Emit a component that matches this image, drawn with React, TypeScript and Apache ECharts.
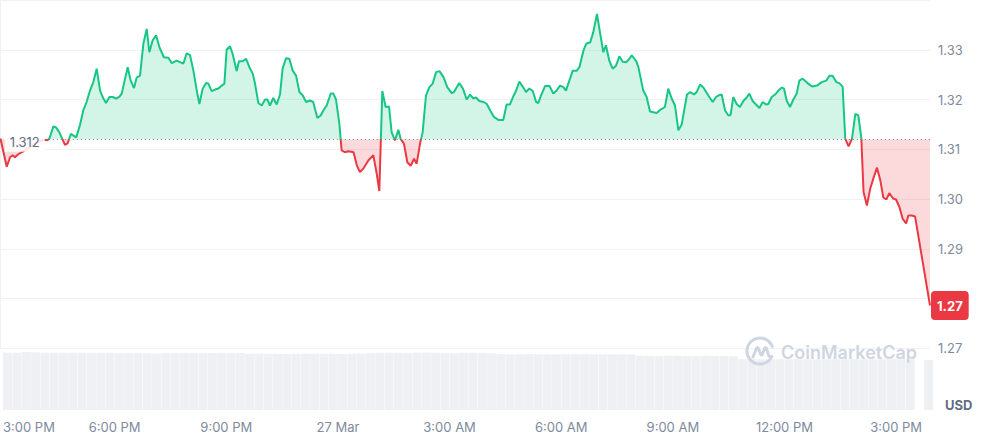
import React, { useEffect, useRef } from "react";
import * as echarts from "echarts";

// hours elapsed since 26 Mar, 3:00 PM
const times = [
  0.01, 0.18, 0.27, 0.34, 0.4, 0.49, 0.67, 0.8, 0.94, 1.12, 1.21, 1.25, 1.32, 1.43, 1.5, 1.59, 1.65, 1.74, 1.81, 1.9,
  1.96, 2.04, 2.14, 2.23, 2.32, 2.41, 2.5, 2.59, 2.68, 2.77, 2.84, 2.93, 3.02, 3.11, 3.2, 3.26, 3.35, 3.42, 3.5, 3.59,
  3.66, 3.75, 3.84, 3.93, 4.0, 4.09, 4.18, 4.27, 4.39, 4.51, 4.6, 4.73, 4.82, 4.91, 5.0, 5.09, 5.18, 5.27, 5.34, 5.43,
  5.52, 5.58, 5.67, 5.76, 5.85, 5.94, 6.01, 6.07, 6.16, 6.23, 6.34, 6.4, 6.5, 6.59, 6.68, 6.77, 6.83, 6.92, 7.01, 7.1,
  7.16, 7.23, 7.32, 7.41, 7.5, 7.57, 7.66, 7.75, 7.84, 7.93, 8.02, 8.11, 8.2, 8.3, 8.39, 8.5, 8.59, 8.66, 8.75, 8.86,
  8.93, 9.0, 9.09, 9.15, 9.24, 9.33, 9.47, 9.56, 9.64, 9.73, 9.87, 10.0, 10.09, 10.16, 10.24, 10.33, 10.42, 10.49, 10.58, 10.67,
  10.73, 10.82, 10.91, 11.0, 11.09, 11.16, 11.25, 11.32, 11.41, 11.5, 11.59, 11.68, 11.77, 11.88, 11.98, 12.1, 12.16, 12.3, 12.4, 12.5,
  12.59, 12.68, 12.75, 12.84, 12.95, 13.04, 13.13, 13.23, 13.35, 13.48, 13.57, 13.66, 13.74, 13.82, 13.91, 14.0, 14.09, 14.18, 14.27, 14.36,
  14.42, 14.49, 14.6, 14.72, 14.82, 14.91, 15.0, 15.09, 15.16, 15.25, 15.34, 15.45, 15.52, 15.63, 15.7, 15.81, 15.89, 15.99, 16.07, 16.16,
  16.23, 16.32, 16.41, 16.5, 16.59, 16.68, 16.77, 16.86, 16.92, 17.04, 17.1, 17.19, 17.23, 17.32, 17.41, 17.59, 17.68, 17.81, 17.9, 17.99,
  18.08, 18.17, 18.26, 18.4, 18.49, 18.59, 18.66, 18.75, 18.84, 18.93, 19.0, 19.09, 19.18, 19.24, 19.33, 19.42, 19.51, 19.57, 19.64, 19.73,
  19.82, 19.91, 20.0, 20.07, 20.16, 20.25, 20.34, 20.43, 20.52, 20.58, 20.67, 20.76, 20.85, 20.94, 21.0, 21.07, 21.16, 21.25, 21.34, 21.41,
  21.5, 21.57, 21.63, 21.75, 21.88, 22.01, 22.13, 22.22, 22.3, 22.4, 22.48, 22.57, 22.64, 22.73, 22.82, 22.91, 22.99, 23.07, 23.13, 23.22,
  23.31, 23.4, 23.49, 23.58, 23.66, 23.74, 23.82, 23.92, 24.0, 24.09, 24.18, 24.27, 24.33, 24.42, 24.51, 24.91,
];

const prices = [
  1.3122, 1.3065, 1.3084, 1.3088, 1.3084, 1.309, 1.3098, 1.3104, 1.3111, 1.3118, 1.3119, 1.3118, 1.3121, 1.3146, 1.3144, 1.3134, 1.3124, 1.3109, 1.3112, 1.3131,
  1.3128, 1.3124, 1.3148, 1.3178, 1.3195, 1.3218, 1.3235, 1.3262, 1.3218, 1.3202, 1.3193, 1.3205, 1.3205, 1.3202, 1.3206, 1.3212, 1.3242, 1.3265, 1.3238, 1.3223,
  1.3244, 1.3248, 1.3312, 1.3342, 1.3295, 1.3319, 1.3329, 1.3305, 1.3285, 1.3284, 1.3273, 1.3278, 1.3275, 1.3272, 1.3293, 1.3289, 1.3258, 1.3218, 1.3191, 1.3222,
  1.3233, 1.3232, 1.3217, 1.322, 1.3222, 1.3228, 1.3232, 1.33, 1.3307, 1.3292, 1.3257, 1.3277, 1.3277, 1.3282, 1.3265, 1.3252, 1.3232, 1.3193, 1.3188, 1.32,
  1.32, 1.3188, 1.3203, 1.319, 1.321, 1.3262, 1.3283, 1.3282, 1.3258, 1.3248, 1.3215, 1.3208, 1.3195, 1.3198, 1.3195, 1.3163, 1.3168, 1.3178, 1.3188, 1.3212,
  1.3212, 1.32, 1.3151, 1.3098, 1.3094, 1.3096, 1.3094, 1.3067, 1.3054, 1.3061, 1.3078, 1.3088, 1.3051, 1.3016, 1.3217, 1.3185, 1.3186, 1.3134, 1.3118, 1.3139,
  1.3121, 1.3111, 1.3074, 1.3067, 1.3081, 1.3071, 1.3111, 1.3134, 1.3208, 1.3225, 1.3232, 1.3255, 1.3257, 1.3245, 1.3225, 1.3213, 1.3215, 1.3233, 1.3222, 1.32,
  1.321, 1.3202, 1.3204, 1.3197, 1.3195, 1.3191, 1.3178, 1.3165, 1.3159, 1.3159, 1.319, 1.319, 1.3205, 1.3217, 1.3236, 1.3226, 1.3215, 1.3222, 1.3217, 1.3195,
  1.3193, 1.3208, 1.3227, 1.3227, 1.3212, 1.3218, 1.3228, 1.3225, 1.3218, 1.3238, 1.3258, 1.3258, 1.3265, 1.3299, 1.3312, 1.3315, 1.3335, 1.3372, 1.3335, 1.3295,
  1.3309, 1.3278, 1.3262, 1.3268, 1.3287, 1.3276, 1.3275, 1.3282, 1.3289, 1.3277, 1.3265, 1.3232, 1.3218, 1.3205, 1.3176, 1.3173, 1.3179, 1.3185, 1.3222, 1.3202,
  1.3188, 1.3138, 1.315, 1.321, 1.3215, 1.321, 1.3215, 1.323, 1.3224, 1.3213, 1.3205, 1.3195, 1.3205, 1.3208, 1.321, 1.3178, 1.3168, 1.3169, 1.3205, 1.3191,
  1.3185, 1.3197, 1.3204, 1.3212, 1.3197, 1.319, 1.3183, 1.3195, 1.319, 1.3191, 1.3205, 1.321, 1.3218, 1.3224, 1.3222, 1.3198, 1.3185, 1.32, 1.3212, 1.3238,
  1.3242, 1.3237, 1.3233, 1.3226, 1.3228, 1.3235, 1.3238, 1.3248, 1.3248, 1.3235, 1.3233, 1.3226, 1.3121, 1.3106, 1.3121, 1.3171, 1.3168, 1.3123, 1.3014, 1.2987,
  1.3021, 1.3043, 1.3063, 1.3037, 1.3003, 1.2999, 1.3012, 1.3001, 1.2999, 1.2984, 1.296, 1.2951, 1.2967, 1.2967, 1.2965, 1.2786,
];

// 15-minute volume buckets (relative units)
const volumes = [
  57.3, 57.3, 58.0, 57.8, 57.3, 57.3, 57.2, 57.3, 57.3, 57.2, 57.3, 57.2, 56.9, 56.9, 56.9, 56.8, 56.3, 57.0, 57.0, 57.0,
  57.1, 57.0, 57.0, 57.0, 57.0, 57.0, 56.2, 56.3, 56.2, 56.2, 56.1, 56.2, 56.2, 56.3, 56.2, 56.2, 56.1, 56.2, 56.4, 56.9,
  57.2, 57.3, 57.2, 57.0, 57.3, 57.4, 57.3, 57.0, 56.8, 57.2, 57.3, 57.1, 56.8, 55.9, 55.8, 55.8, 55.9, 55.8, 55.7, 55.8,
  55.8, 55.9, 55.8, 55.8, 55.7, 55.8, 55.8, 55.6, 54.2, 54.2, 54.1, 54.2, 54.2, 54.0, 54.1, 54.2, 54.1, 54.0, 53.8, 50.8,
  50.8, 50.7, 50.8, 50.8, 50.7, 50.8, 50.8, 50.7, 50.8, 50.8, 50.7, 50.8, 50.8, 50.7, 50.8, 50.8, 50.7, 50.6, 0, 50.0,
];

const xTickLabels = ["3:00 PM", "6:00 PM", "9:00 PM", "27 Mar", "3:00 AM", "6:00 AM", "9:00 AM", "12:00 PM", "3:00 PM"];
const hiddenPriceTicks = [1.28, 1.34];
const openPrice = 1.312;
const currency = "USD";

const GREEN = "#16c784";
const RED = "#ea3943";
const GRID_LINE = "#eff2f5";
const LABEL = "#808a9d";
const WATERMARK = "#cfd5e1";

const logoPath =
  "M25.6 22.5 A13 13 0 1 1 27.2 10.6 M8 21 L11.5 12.5 Q12.5 10.5 13.5 12.5 L15.5 18 Q16.5 20 17.5 18 L19.5 12.5 Q20.5 10.5 21.5 12.5 L23.5 19 Q24.5 21.5 27 20.5";

let logoRegistered = false;

export default function App() {
  const ref = useRef<HTMLDivElement>(null);

  useEffect(() => {
    if (!ref.current) return;
    if (!logoRegistered) {
      try {
        echarts.graphic.registerShape("cmcLogo", echarts.graphic.extendPath(logoPath, {}));
        logoRegistered = true;
      } catch (e) {
        logoRegistered = false;
      }
    }
    const chart = echarts.init(ref.current, undefined, { renderer: "svg" });
    const timeEnd = 24.91;
    const last = prices[prices.length - 1];

    const xFormatter = (v: number) => {
      const i = Math.round(v / 3);
      if (Math.abs(v - i * 3) < 1e-6 && i >= 0 && i < xTickLabels.length) return xTickLabels[i];
      return "";
    };
    const yFormatter = (v: number) => {
      if (hiddenPriceTicks.some((h) => Math.abs(h - v) < 1e-6)) return "";
      return v.toFixed(2);
    };

    const graphics: any[] = [
      {
        type: "text",
        x: 781,
        y: 352,
        z: 50,
        silent: true,
        style: {
          text: "CoinMarketCap",
          fill: WATERMARK,
          fontSize: 18,
          fontWeight: 600,
          fontFamily: "Inter",
          align: "left",
          verticalAlign: "middle",
        },
      },
      {
        type: "text",
        x: 945,
        y: 405,
        z: 50,
        silent: true,
        style: {
          text: currency,
          fill: "#616e85",
          fontSize: 13,
          fontWeight: "bold",
          fontFamily: "Inter",
          align: "left",
          verticalAlign: "middle",
        },
      },
    ];
    if (logoRegistered) {
      graphics.push({
        type: "cmcLogo",
        x: 745,
        y: 336,
        z: 50,
        silent: true,
        style: { stroke: WATERMARK, fill: "none", lineWidth: 3, lineCap: "round", lineJoin: "round" },
      });
    }

    chart.setOption({
      animation: false,
      textStyle: { fontFamily: "Inter" },
      grid: [
        { left: 0, right: 60, top: -1, height: 349.3, containLabel: false },
        { left: 0, right: 60, top: 352, height: 58, containLabel: false },
      ],
      xAxis: [
        {
          type: "value",
          gridIndex: 0,
          min: 0,
          max: timeEnd,
          interval: 3,
          axisLine: { show: false },
          axisTick: { show: false },
          axisLabel: { show: false },
          splitLine: { show: false },
        },
        {
          type: "value",
          gridIndex: 1,
          min: 0,
          max: timeEnd,
          interval: 3,
          axisLine: { show: false },
          axisTick: { show: false },
          splitLine: { show: false },
          axisLabel: {
            formatter: xFormatter,
            color: LABEL,
            fontSize: 13,
            fontFamily: "Inter",
            margin: 10,
            alignMinLabel: "left",
          },
        },
      ],
      yAxis: [
        {
          type: "value",
          gridIndex: 0,
          position: "right",
          min: 1.27,
          max: 1.34,
          interval: 0.01,
          axisLine: { show: true, lineStyle: { color: GRID_LINE, width: 1 } },
          axisTick: { show: false },
          splitLine: { show: true, lineStyle: { color: GRID_LINE, width: 1 } },
          axisLabel: { formatter: yFormatter, color: LABEL, fontSize: 13, fontFamily: "Inter", margin: 8 },
        },
        {
          type: "value",
          gridIndex: 0,
          position: "left",
          min: 0,
          max: 1,
          axisLine: { show: true, lineStyle: { color: GRID_LINE, width: 1 } },
          axisTick: { show: false },
          axisLabel: { show: false },
          splitLine: { show: false },
        },
        {
          type: "value",
          gridIndex: 1,
          position: "right",
          min: 0,
          max: 58,
          axisLine: { show: true, lineStyle: { color: GRID_LINE, width: 1 } },
          axisTick: { show: false },
          axisLabel: { show: false },
          splitLine: { show: false },
        },
        {
          type: "value",
          gridIndex: 1,
          position: "left",
          min: 0,
          max: 58,
          axisLine: { show: true, lineStyle: { color: GRID_LINE, width: 1 } },
          axisTick: { show: false },
          axisLabel: { show: false },
          splitLine: { show: false },
        },
      ],
      visualMap: {
        type: "piecewise",
        show: false,
        seriesIndex: 0,
        dimension: 1,
        pieces: [
          { gt: 1, lte: openPrice, color: RED },
          { gt: openPrice, lte: 2, color: GREEN },
        ],
      },
      series: [
        {
          type: "line",
          name: "Price",
          xAxisIndex: 0,
          yAxisIndex: 0,
          data: times.map((t, i) => [t, prices[i]]),
          showSymbol: false,
          symbol: "none",
          lineStyle: { width: 2 },
          areaStyle: { origin: openPrice, opacity: 0.19 },
          z: 3,
          endLabel: {
            show: true,
            distance: 1,
            formatter: () => (Math.floor(last * 100) / 100).toFixed(2),
            color: "#ffffff",
            fontSize: 13,
            fontWeight: "bold",
            fontFamily: "Inter",
            backgroundColor: RED,
            padding: [8, 6],
            borderRadius: 4,
          },
          markLine: {
            silent: true,
            symbol: ["none", "none"],
            animation: false,
            z: 6,
            data: [
              [
                {
                  coord: [1.2, openPrice],
                  lineStyle: { color: "#7d8799", type: [1, 3], width: 1.2 },
                  label: {
                    show: true,
                    position: "start",
                    distance: 0,
                    formatter: () => openPrice.toFixed(3),
                    color: "#616e85",
                    fontSize: 13,
                    fontFamily: "Inter",
                    backgroundColor: "rgba(255,255,255,0.85)",
                    padding: [3, 5],
                    offset: [0, 3],
                  },
                },
                { coord: [timeEnd, openPrice] },
              ],
            ],
          },
        },
        {
          type: "bar",
          name: "Volume",
          xAxisIndex: 1,
          yAxisIndex: 2,
          data: volumes.map((v, i) => [(i + 0.5) * 0.25, v]),
          barWidth: 9,
          itemStyle: { color: "#eef0f4" },
          silent: true,
        },
      ],
      graphic: graphics,
    });

    return () => {
      chart.dispose();
    };
  }, []);

  return (
    <div
      ref={ref}
      style={{ position: "fixed", left: 0, top: 0, width: 990, height: 436, background: "#ffffff" }}
    />
  );
}
